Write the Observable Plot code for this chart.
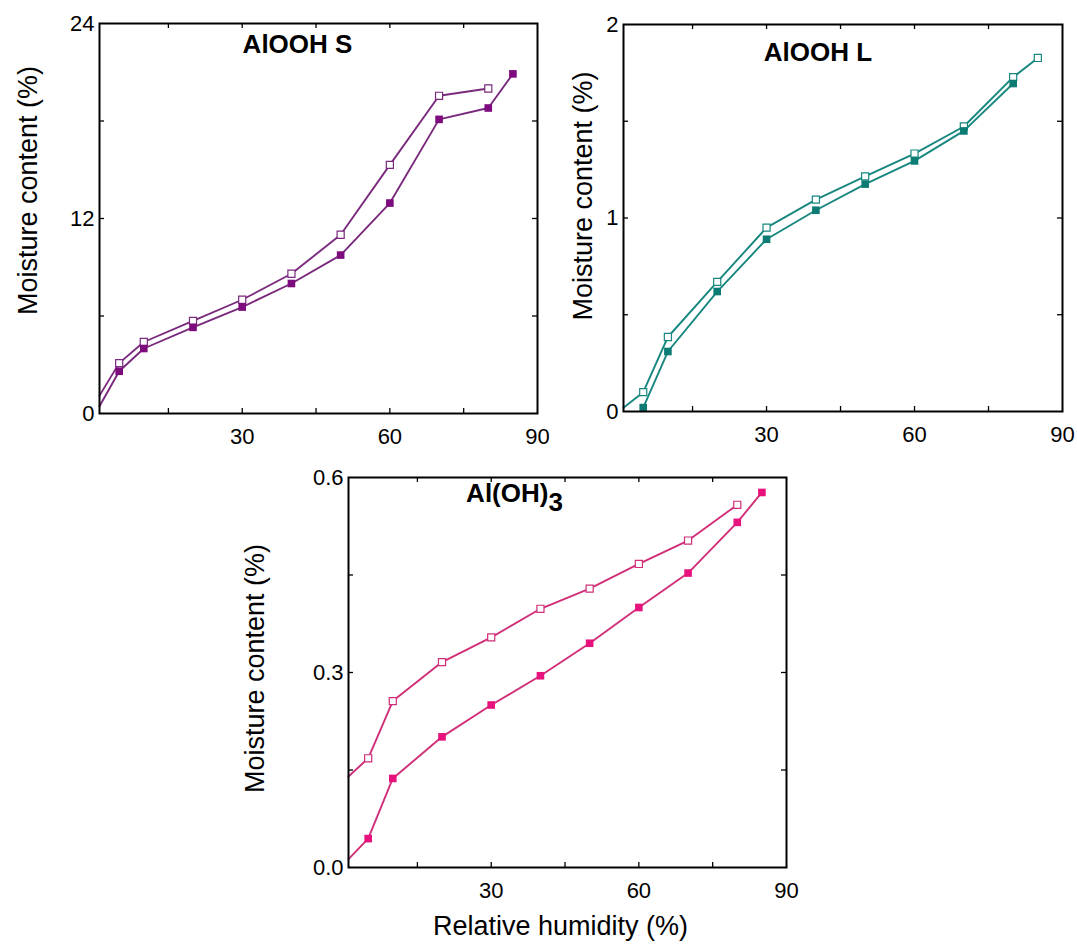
<!DOCTYPE html>
<html>
<head>
<meta charset="utf-8">
<script src="https://cdn.jsdelivr.net/npm/d3@7"></script>
<script src="https://cdn.jsdelivr.net/npm/@observablehq/plot@0.6"></script>
<style>
  html, body { margin: 0; padding: 0; background: #fff; }
  #wrap { position: relative; width: 1077px; height: 944px; overflow: hidden; background: #fff; }
  .panel { position: absolute; }
</style>
</head>
<body>
<div id="wrap">
  <div class="panel" id="p1" style="left:0px; top:0px;"></div>
  <div class="panel" id="p2" style="left:560px; top:0px;"></div>
  <div class="panel" id="p3" style="left:230px; top:460px;"></div>
</div>
<script>
// ---------------- DATA ----------------
// Panel 1: AlOOH S
const sTitle = "AlOOH S";
const sRhFilled = [1, 5, 10, 20, 30, 40, 50, 60, 70, 80, 85];
const sFilled   = [0.45, 2.6, 4.0, 5.3, 6.55, 8.0, 9.75, 12.95, 18.1, 18.8, 20.9];
const sRhOpen   = [1, 5, 10, 20, 30, 40, 50, 60, 70, 80];
const sOpen     = [1.1, 3.1, 4.4, 5.7, 7.0, 8.6, 11.0, 15.3, 19.55, 20.0];
const sYLabels  = [0, 12, 24];
const sYTicks   = [6, 12, 18];

// Panel 2: AlOOH L
const lTitle = "AlOOH L";
const lRhFilled = [5, 10, 20, 30, 40, 50, 60, 70, 80];
const lFilled   = [0.02, 0.31, 0.62, 0.89, 1.04, 1.175, 1.295, 1.45, 1.695];
const lRhOpen   = [1, 5, 10, 20, 30, 40, 50, 60, 70, 80, 85];
const lOpen     = [0.02, 0.10, 0.385, 0.67, 0.95, 1.095, 1.215, 1.333, 1.473, 1.728, 1.827];
const lYLabels  = [0, 1, 2];
const lYTicks   = [0.5, 1, 1.5];

// Panel 3: Al(OH)3
const hTitle = "Al(OH)3";
const hRhFilled = [1, 5, 10, 20, 30, 40, 50, 60, 70, 80, 85];
const hFilled   = [0.013, 0.0445, 0.137, 0.201, 0.250, 0.295, 0.345, 0.400, 0.453, 0.531, 0.577];
const hRhOpen   = [1, 5, 10, 20, 30, 40, 50, 60, 70, 80];
const hOpen     = [0.14, 0.168, 0.256, 0.316, 0.354, 0.398, 0.429, 0.467, 0.503, 0.558];
const hYLabels  = [0.0, 0.3, 0.6];
const hYTicks   = [0.15, 0.3, 0.45];

const xLabels = [30, 60, 90];
const xTicks  = [15, 30, 45, 60, 75];
const yTitle = "Moisture content (%)";
const xTitle = "Relative humidity (%)";

// ---------------- DRAW ----------------
const FONT = "'Liberation Sans', Arial, Helvetica, sans-serif";

function toRows(xs, ys) { return xs.map((x, i) => ({x, y: ys[i], i})); }

function panel(cfg) {
  const innerW = cfg.width - cfg.ml - cfg.mr;
  const innerH = cfg.height - cfg.mt - cfg.mb;
  const filled = toRows(cfg.rhFilled, cfg.filled);
  const open = toRows(cfg.rhOpen, cfg.open);
  // leading point of a series (at the frame edge) carries no marker
  const markF = filled.filter(d => d.x > 1);
  const markO = open.filter(d => d.x > 1);
  const marks = [
    Plot.line(filled, {x: "x", y: "y", stroke: cfg.line, strokeWidth: 1.9}),
    Plot.line(open, {x: "x", y: "y", stroke: cfg.line, strokeWidth: 1.9}),
    Plot.dot(markO, {x: "x", y: "y", symbol: "square", r: 4.0, fill: "white", stroke: cfg.line, strokeWidth: 1.2}),
    Plot.dot(markF, {x: "x", y: "y", symbol: "square", r: 4.3, fill: cfg.mark, stroke: "none"}),
    Plot.frame({stroke: "black", strokeWidth: 2}),
    // inward ticks on all four sides
    Plot.tickX(xTicks, {x: d => d, insetTop: innerH - 5, stroke: "black", strokeWidth: 1.3}),
    Plot.tickX(xTicks, {x: d => d, insetBottom: innerH - 5, stroke: "black", strokeWidth: 1.3}),
    Plot.tickY(cfg.yTicks, {y: d => d, insetRight: innerW - 5, stroke: "black", strokeWidth: 1.3}),
    Plot.tickY(cfg.yTicks, {y: d => d, insetLeft: innerW - 5, stroke: "black", strokeWidth: 1.3}),
    Plot.axisX({ticks: xLabels, tickSize: 0, tickPadding: 15, fontSize: 22, label: null}),
    Plot.axisY({ticks: cfg.yLabels, tickSize: 0, tickPadding: 5, fontSize: 22, label: null, tickFormat: cfg.yFormat}),
    // rotated axis title, centred on its anchor; dx/dy are screen offsets
    Plot.text([yTitle], {text: d => d, frameAnchor: "left", textAnchor: "middle", rotate: -90, dx: cfg.yTitleDx, dy: cfg.yTitleDy, lineAnchor: "middle", fontSize: 27, fill: "black"}),
    Plot.text([cfg.title], {text: d => d, frameAnchor: "top", lineAnchor: "middle", dx: cfg.titleDx, dy: cfg.titleDy, fontSize: 26, fontWeight: "bold", fill: "black"})
  ];
  if (cfg.xTitle) {
    marks.push(Plot.text([cfg.xTitle], {text: d => d, frameAnchor: "bottom", lineAnchor: "middle", dx: -7, dy: cfg.xTitleDy, fontSize: 27, fill: "black"}));
  }
  const svg = Plot.plot({
    width: cfg.width, height: cfg.height,
    marginLeft: cfg.ml, marginRight: cfg.mr, marginTop: cfg.mt, marginBottom: cfg.mb,
    x: {domain: [1, 90]},
    y: {domain: cfg.yDomain},
    style: {fontFamily: FONT, background: "white", color: "black", overflow: "visible"},
    marks
  });
  // subscript for chemical formula
  svg.querySelectorAll("text").forEach(t => {
    if (t.textContent === "Al(OH)3") {
      t.textContent = "";
      const ns = "http://www.w3.org/2000/svg";
      const a = document.createElementNS(ns, "tspan"); a.textContent = "Al(OH)";
      const b = document.createElementNS(ns, "tspan"); b.textContent = "3"; b.setAttribute("dy", "0.35em");
      t.appendChild(a); t.appendChild(b);
    }
  });
  return svg;
}

document.getElementById("p1").appendChild(panel({
  width: 560, height: 450, ml: 99, mr: 23, mt: 23, mb: 37,
  yDomain: [0, 24], rhFilled: sRhFilled, filled: sFilled, rhOpen: sRhOpen, open: sOpen,
  yLabels: sYLabels, yTicks: sYTicks, yFormat: d3.format("d"),
  line: "#7a2a7c", mark: "#7d0b7d", title: sTitle, titleDx: -21, titleDy: 21,
  yTitleDx: -71, yTitleDy: -28
}));

document.getElementById("p2").appendChild(panel({
  width: 517, height: 450, ml: 63, mr: 15, mt: 24, mb: 39,
  yDomain: [0, 2], rhFilled: lRhFilled, filled: lFilled, rhOpen: lRhOpen, open: lOpen,
  yLabels: lYLabels, yTicks: lYTicks, yFormat: d3.format("d"),
  line: "#17877f", mark: "#0c7b73", title: lTitle, titleDx: -25, titleDy: 28,
  yTitleDx: -40, yTitleDy: -22
}));

document.getElementById("p3").appendChild(panel({
  width: 600, height: 484, ml: 118, mr: 44, mt: 17, mb: 77,
  yDomain: [0, 0.6], rhFilled: hRhFilled, filled: hFilled, rhOpen: hRhOpen, open: hOpen,
  yLabels: hYLabels, yTicks: hYTicks, yFormat: d3.format(".1f"),
  line: "#d02f78", mark: "#e8127c", title: hTitle, titleDx: -53, titleDy: 16,
  yTitleDx: -93, yTitleDy: -4,
  xTitle: xTitle, xTitleDy: 59
}));
</script>
</body>
</html>
